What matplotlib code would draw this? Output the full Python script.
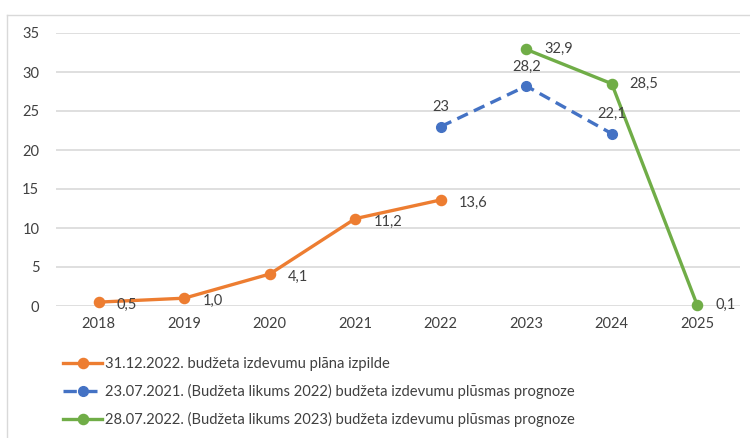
import matplotlib
matplotlib.use('Agg')
import matplotlib.pyplot as plt
from matplotlib.lines import Line2D

plt.rcParams['font.family'] = ['Lato', 'DejaVu Sans']

years = ['2018', '2019', '2020', '2021', '2022', '2023', '2024', '2025']

# izpilde 2018-2022
izpilde_x = [0, 1, 2, 3, 4]
izpilde = [0.5, 1.0, 4.1, 11.2, 13.6]
izpilde_txt = ['0,5', '1,0', '4,1', '11,2', '13,6']

# prognoze 2021 (2022-2024)
progn21_x = [4, 5, 6]
progn21 = [23, 28.2, 22.1]
progn21_txt = ['23', '28,2', '22,1']

# prognoze 2022 (2023-2025)
progn22_x = [5, 6, 7]
progn22 = [32.9, 28.5, 0.1]
progn22_txt = ['32,9', '28,5', '0,1']

labels = ['31.12.2022. budžeta izdevumu plāna izpilde',
          '23.07.2021. (Budžeta likums 2022) budžeta izdevumu plūsmas prognoze',
          '28.07.2022. (Budžeta likums 2023) budžeta izdevumu plūsmas prognoze']

c_orange = '#ED7D31'
c_blue = '#4472C4'
c_green = '#70AD47'
txt_col = '#404040'

W, H = 750, 438
fig = plt.figure(figsize=(7.5, 4.38), dpi=100)
ax = fig.add_axes([56 / W, 1 - 306 / H, (740 - 56) / W, (306 - 33) / H])

l1, = ax.plot(izpilde_x, izpilde, color=c_orange, lw=2.4, marker='o', ms=7.3,
              clip_on=False, zorder=3)
l2, = ax.plot(progn21_x, progn21, color=c_blue, lw=2.4, marker='o', ms=7,
              linestyle=(0, (3.5, 2.0)), clip_on=False, zorder=3)
l3, = ax.plot(progn22_x, progn22, color=c_green, lw=2.4, marker='o', ms=7.3,
              clip_on=False, zorder=3)

# datu etiķetes
for x, v, t in zip(izpilde_x, izpilde, izpilde_txt):
    ax.annotate(t, (x, v), xytext=(13, -2), textcoords='offset points',
                ha='left', va='center', fontsize=10.5, color=txt_col)
for x, v, t in zip(progn21_x, progn21, progn21_txt):
    ax.annotate(t, (x, v), xytext=(0, 9), textcoords='offset points',
                ha='center', va='bottom', fontsize=10.5, color=txt_col)
for x, v, t in zip(progn22_x, progn22, progn22_txt):
    ax.annotate(t, (x, v), xytext=(13, 0), textcoords='offset points',
                ha='left', va='center', fontsize=10.5, color=txt_col)

ax.set_xlim(-0.5, 7.5)
ax.set_ylim(0, 35)
ax.set_yticks(range(0, 36, 5))
ax.set_xticks(range(len(years)))
ax.set_xticklabels(years)
ax.tick_params(length=0, labelsize=10.5, labelcolor=txt_col)
ax.tick_params(axis='y', pad=12)
ax.tick_params(axis='x', pad=8)
ax.grid(axis='y', color='#D9D9D9', lw=1.2)
ax.set_axisbelow(True)
for s in ax.spines.values():
    s.set_visible(False)

# leģendā zilā līnija: svītra, punkts, svītra
h2 = Line2D([], [], color=c_blue, lw=2.4, marker='o', ms=7,
            linestyle=(0, (4.0, 2.2)))
fig.legend([l1, h2, l3], labels, loc='upper left',
           bbox_to_anchor=(56 / W, 1 - 350 / H), frameon=False,
           fontsize=10.6, labelcolor=txt_col, handlelength=2.6,
           handletextpad=0.2, labelspacing=0.88, borderpad=0)

# rāmis ap diagrammu
fig.add_artist(Line2D([7 / W, 7 / W], [0, 1 - 15 / H], color='#D9D9D9', lw=1))
fig.add_artist(Line2D([7 / W, 1], [1 - 15 / H, 1 - 15 / H], color='#D9D9D9', lw=1))

fig.savefig('out.png', dpi=100)
